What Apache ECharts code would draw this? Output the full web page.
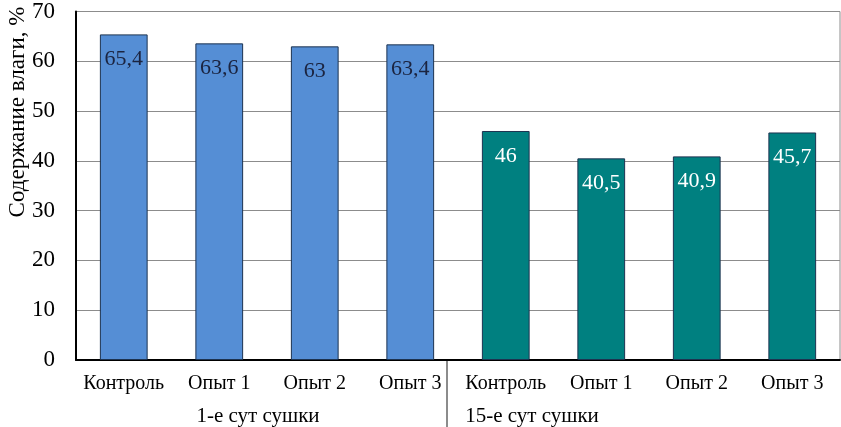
<!DOCTYPE html>
<html><head><meta charset="utf-8">
<script src="https://cdn.jsdelivr.net/npm/echarts@6/dist/echarts.min.js"></script>
<style>html,body{margin:0;padding:0;background:#fff}#c{width:841px;height:427px}</style>
</head><body><div id="c"></div>
<script>
const categories = ['Контроль','Опыт 1','Опыт 2','Опыт 3','Контроль','Опыт 1','Опыт 2','Опыт 3'];
const groupLabels = ['1-е сут сушки','15-е сут сушки'];
const values = [65.4, 63.6, 63, 63.4, 46, 40.5, 40.9, 45.7];
const groupOf = [0,0,0,0,1,1,1,1];
const yTicks = {min:0, max:70, interval:10};
const yTitle = 'Содержание влаги, %';

const font = 'Liberation Serif, Times New Roman, serif';
const groupColor = ['#558ED5', '#008080'];
const labelColor = ['#1B2440', '#ffffff'];

const chart = echarts.init(document.getElementById('c'));
chart.setOption({
  animation:false,
  grid:{left:76, right:1, top:8, bottom:67, show:true, borderColor:'#8c8c8c', borderWidth:1},
  xAxis:{type:'category', data:categories,
    axisLine:{lineStyle:{color:'#000', width:2}},
    axisTick:{show:false},
    axisLabel:{color:'#000', fontFamily:font, fontSize:20, margin:14, interval:0}},
  yAxis:{type:'value', min:yTicks.min, max:yTicks.max, interval:yTicks.interval,
    axisLine:{show:true, lineStyle:{color:'#000', width:2}},
    axisTick:{show:false},
    splitLine:{lineStyle:{color:'#8c8c8c', width:1}},
    axisLabel:{color:'#000', fontFamily:font, fontSize:23, margin:21}},
  series:[{type:'bar', barWidth:'50%',
    data: values.map((v,i)=>({value:v,
      itemStyle:{color:groupColor[groupOf[i]], borderColor:'#1d3350', borderWidth:1},
      label:{color:labelColor[groupOf[i]]}})),
    label:{show:true, position:'insideTop', distance:14, fontFamily:font, fontSize:22,
      formatter:p=>String(p.value).replace('.',',')}
  }],
  graphic:[
    {type:'text', rotation:Math.PI/2, x:18, y:112,
      style:{text:yTitle, font:'23px '+font, fill:'#000', textAlign:'center', textVerticalAlign:'middle'}},
    {type:'text', x:258, y:416, style:{text:groupLabels[0], font:'21px '+font, fill:'#000', textAlign:'center', textVerticalAlign:'middle'}},
    {type:'text', x:532, y:416, style:{text:groupLabels[1], font:'21px '+font, fill:'#000', textAlign:'center', textVerticalAlign:'middle'}},
    {type:'line', shape:{x1:447, y1:361, x2:447, y2:427}, style:{stroke:'#8c8c8c', lineWidth:2}}
  ]
});
</script></body></html>
